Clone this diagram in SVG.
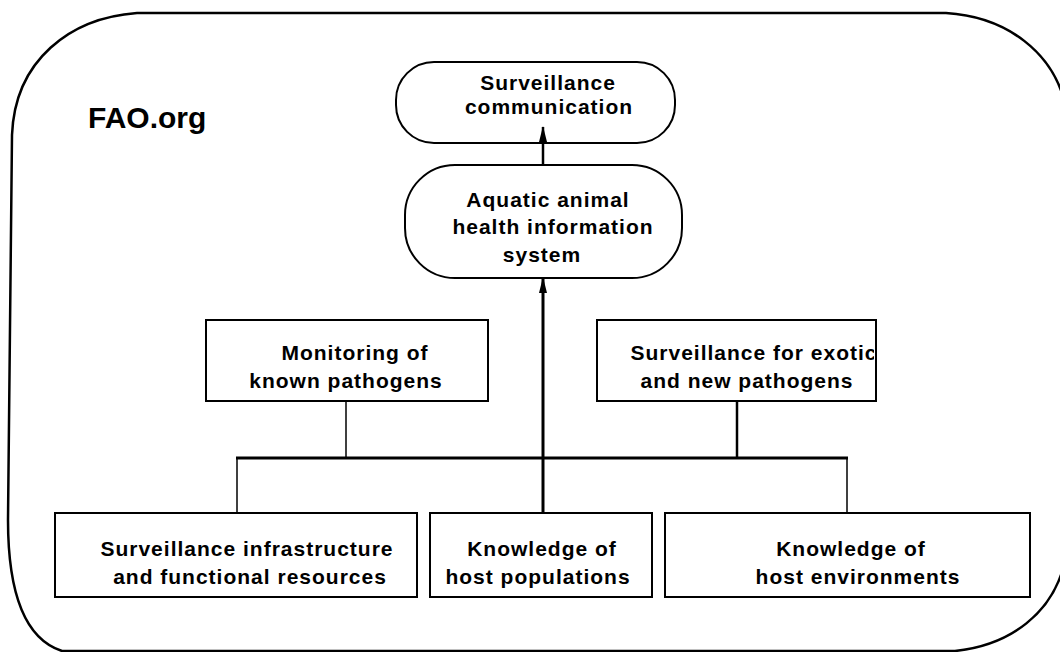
<svg xmlns="http://www.w3.org/2000/svg" width="1060" height="652" viewBox="0 0 1060 652">
<defs>
<style>
.t{font-family:"Liberation Sans",Arial,sans-serif;font-weight:bold;font-size:21px;letter-spacing:1px;fill:#000;text-anchor:middle}
.box{fill:#fff;stroke:#000;stroke-width:2}
.ln{stroke:#000;fill:none}
</style>
<marker id="ah" viewBox="0 0 16 8" refX="15" refY="4" markerWidth="16" markerHeight="8" markerUnits="userSpaceOnUse" orient="auto">
<path d="M16 4 L0 0 L0 8 Z" fill="#000"/>
</marker>
<clipPath id="cx"><rect x="598" y="320" width="276" height="81"/></clipPath>
</defs>
<rect width="1060" height="652" fill="#fff"/>
<path id="frame" class="ln" stroke-width="2.5" d="M137 13 L946 13 C1010 17 1052 55 1064 100 L1064 565 C1052 612 1012 645 955 651 L62 651 C28 640 8 600 8 520 L12 135 C15 60 70 18 137 13 Z"/>
<text x="88" y="128" style="font-family:'Liberation Sans',Arial,sans-serif;font-weight:bold;font-size:30px">FAO.org</text>
<g id="connectors">
<line class="ln" stroke-width="2.5" x1="543" y1="165" x2="543" y2="127" marker-end="url(#ah)"/>
<line class="ln" stroke-width="3" x1="543" y1="512" x2="543" y2="278" marker-end="url(#ah)"/>
<line class="ln" stroke-width="1.5" x1="346" y1="402" x2="346" y2="458"/>
<line class="ln" stroke-width="2.5" x1="737" y1="402" x2="737" y2="458"/>
<line class="ln" stroke-width="3" x1="236" y1="458" x2="848" y2="458"/>
<line class="ln" stroke-width="1.5" x1="237" y1="458" x2="237" y2="513"/>
<line class="ln" stroke-width="1.5" x1="847" y1="458" x2="847" y2="513"/>
</g>
<g id="n-comm">
<rect class="box" x="396" y="62" width="279" height="81" rx="38" ry="38" fill-opacity="0"/>
<text class="t" x="548" y="90">Surveillance</text>
<text class="t" x="549" y="114">communication</text>
</g>
<g id="n-aahis">
<rect class="box" x="405" y="165" width="277" height="113" rx="50" ry="50" fill-opacity="0"/>
<text class="t" x="548" y="207">Aquatic animal</text>
<text class="t" x="553" y="234">health information</text>
<text class="t" x="542" y="262">system</text>
</g>
<g id="n-monitor">
<rect class="box" x="206" y="320" width="282" height="81"/>
<text class="t" x="355" y="360">Monitoring of</text>
<text class="t" x="346" y="388">known pathogens</text>
</g>
<g id="n-exotic">
<rect class="box" x="597" y="320" width="279" height="81"/>
<g clip-path="url(#cx)">
<text class="t" x="754" y="360">Surveillance for exotic</text>
</g>
<text class="t" x="747" y="388">and new pathogens</text>
</g>
<g id="n-infra">
<rect class="box" x="55" y="513" width="362" height="84"/>
<text class="t" x="247" y="556">Surveillance infrastructure</text>
<text class="t" x="250" y="584">and functional resources</text>
</g>
<g id="n-hostpop">
<rect class="box" x="430" y="513" width="222" height="84"/>
<text class="t" x="542" y="556">Knowledge of</text>
<text class="t" x="538" y="584">host populations</text>
</g>
<g id="n-hostenv">
<rect class="box" x="665" y="513" width="365" height="84"/>
<text class="t" x="851" y="556">Knowledge of</text>
<text class="t" x="858" y="584">host environments</text>
</g>
</svg>
